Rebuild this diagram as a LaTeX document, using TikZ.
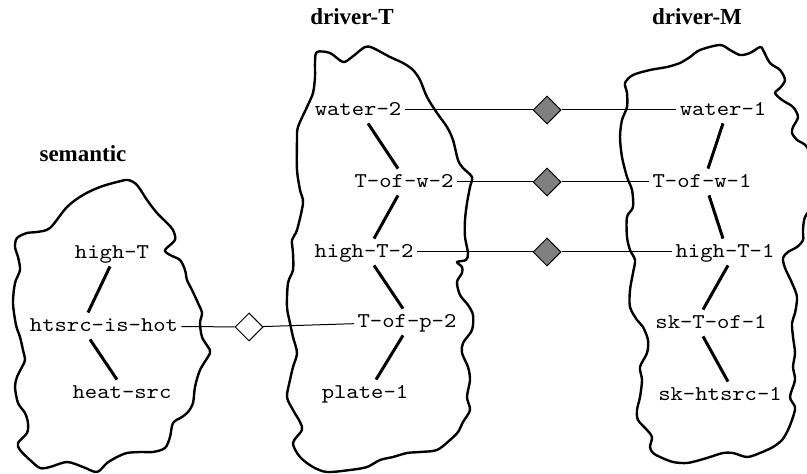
\documentclass[tikz,border=0pt]{standalone}
\usepackage{fontspec}
\setmainfont{Liberation Serif}
\setmonofont[FakeStretch=1.12]{Latin Modern Mono}
\usetikzlibrary{shapes,positioning}

\begin{document}
\begin{tikzpicture}[x=0.5pt,y=-0.5pt,
    concept/.style={font=\ttfamily\fontsize{10.5}{12}\selectfont, text height=6pt, text depth=0pt, inner xsep=1.5pt, inner ysep=3.5pt},
    groupname/.style={font=\bfseries\fontsize{11.5}{13}\selectfont, anchor=base},
    blobline/.style={line width=1.2pt, line join=round},
    relline/.style={line width=1.5pt},
    mapline/.style={line width=0.5pt},
    mapmark/.style={diamond, draw, line width=0.5pt, fill=gray, minimum width=14pt, minimum height=14pt, inner sep=0pt}]
    \useasboundingbox (0,0) rectangle (807,474);

    % semantic
    \node[groupname] (semlabel) at (83,162) {semantic};
    \draw[blobline] plot[smooth cycle, tension=0.5] coordinates {
        (17,238) (27,233) (37,232) (50,228) (67,207) (83,195) (100,187) (117,182)
        (128,180) (137,185) (147,200) (157,213) (167,223) (173,230) (175,240)
        (165,250) (170,255) (180,260) (185,270) (187,280) (192,290) (198,303)
        (202,313) (200,323) (202,337) (208,347) (210,353) (200,370) (195,387)
        (193,403) (188,412) (182,417) (173,423) (170,437) (165,448) (153,452)
        (140,452) (127,453) (117,457) (107,463) (97,472) (83,467) (67,462)
        (50,467) (40,468) (30,460) (20,450) (18,443) (27,433) (28,423) (25,413)
        (18,403) (15,387) (17,377) (22,367) (25,360) (23,350) (20,337) (16,325)
        (13,303) (15,283) (20,270) (18,257) (15,247)
    };
    \node[concept] (hight) at (112,253) {high-T};
    \node[concept] (hot) at (104,326) {htsrc-is-hot};
    \node[concept] (heatsrc) at (122,393) {heat-src};
    \draw[relline] ([xshift=-1pt]hight.south) -- ([xshift=-8pt]hot.north);
    \draw[relline] ([xshift=-7pt]hot.south) -- ([xshift=-2.5pt]heatsrc.north);

    % driver-T
    \node[groupname] (tlabel) at (352,25) {driver-T};
    \draw[blobline] plot[smooth cycle, tension=0.5] coordinates {
        (317,52) (330,53) (343,62) (352,57) (365,47) (373,48) (390,57) (403,63)
        (413,70) (420,80) (427,97) (437,113) (447,127) (453,140) (458,160)
        (463,168) (472,177) (470,187) (467,203) (465,220) (465,237) (468,253)
        (466,260) (457,262) (462,267) (462,273) (457,282) (460,295) (468,305)
        (473,315) (472,330) (463,343) (462,353) (468,367) (470,380) (467,397)
        (470,410) (463,422) (458,432) (450,440) (437,450) (420,452) (407,453)
        (393,457) (380,460) (367,467) (350,470) (327,472) (313,467) (300,457)
        (293,443) (302,430) (300,422) (293,410) (287,397) (290,380) (293,367)
        (297,353) (293,337) (290,323) (287,307) (288,283) (293,270) (293,253)
        (292,240) (297,230) (303,203) (300,190) (297,170) (297,140) (298,127)
        (307,107) (313,93) (315,77) (315,62)
    };
    \node[concept] (water2) at (358,110) {water-2};
    \node[concept] (tofw2) at (404,182) {T-of-w-2};
    \node[concept] (hight2) at (364,252) {high-T-2};
    \node[concept] (tofp2) at (407,322) {T-of-p-2};
    \node[concept] (plate1) at (365,393) {plate-1};
    \draw[relline] ([xshift=5pt]water2.south) -- ([xshift=-3pt]tofw2.north);
    \draw[relline] ([xshift=-3pt]tofw2.south) -- ([xshift=5pt]hight2.north);
    \draw[relline] ([xshift=5pt]hight2.south) -- ([xshift=-2pt]tofp2.north);
    \draw[relline] ([xshift=-2pt]tofp2.south) -- ([xshift=5.5pt]plate1.north);

    % driver-M
    \node[groupname] (mlabel) at (697,25) {driver-M};
    \draw[blobline] plot[smooth cycle, tension=0.5] coordinates {
        (625,83) (633,75) (650,70) (667,67) (680,63) (690,57) (700,50) (720,45)
        (730,50) (740,55) (750,53) (760,47) (763,50) (770,63) (780,70) (785,80)
        (780,88) (775,93) (782,100) (793,107) (798,117) (793,127) (792,133)
        (797,140) (807,147) (815,170) (815,200) (805,217) (803,230) (803,240)
        (797,247) (788,252) (783,258) (785,268) (792,283) (797,297) (795,313)
        (792,323) (793,337) (795,353) (793,367) (795,380) (790,397) (795,407)
        (793,417) (788,430) (782,440) (773,447) (760,453) (747,457) (733,453)
        (723,453) (710,457) (700,460) (687,463) (673,462) (660,457) (653,453)
        (650,447) (652,437) (647,430) (638,420) (637,410) (640,397) (642,380)
        (640,367) (647,353) (648,340) (643,327) (637,320) (630,307) (630,290)
        (633,273) (635,260) (630,250) (627,237) (627,217) (633,207) (632,190)
        (627,177) (622,157) (620,137) (622,120) (627,107) (627,93)
    };
    \node[concept] (water1) at (723,110) {water-1};
    \node[concept] (tofw1) at (702,182) {T-of-w-1};
    \node[concept] (hight1) at (725,252) {high-T-1};
    \node[concept] (sktof1) at (711,323) {sk-T-of-1};
    \node[concept] (skhtsrc1) at (720,395) {sk-htsrc-1};
    \draw[relline] (water1.south) -- ([xshift=3pt]tofw1.north);
    \draw[relline] ([xshift=3.5pt]tofw1.south) -- ([xshift=-1pt]hight1.north);
    \draw[relline] ([xshift=1.5pt]hight1.south) -- ([xshift=-4pt]sktof1.north);
    \draw[relline] ([xshift=-4pt]sktof1.south) -- ([xshift=4pt]skhtsrc1.north);

    % mappings between the groups
    \node[mapmark, fill=white] (semmap) at (249,327) {};
    \node[mapmark] (watermap) at (547,110) {};
    \node[mapmark] (tofwmap) at (547,182) {};
    \node[mapmark] (hightmap) at (547,252) {};
    \draw[mapline] (hot) -- (semmap) -- (tofp2);
    \draw[mapline] (water2) -- (watermap) -- (water1);
    \draw[mapline] (tofw2) -- (tofwmap) -- (tofw1);
    \draw[mapline] (hight2) -- (hightmap) -- (hight1);
\end{tikzpicture}
\end{document}
